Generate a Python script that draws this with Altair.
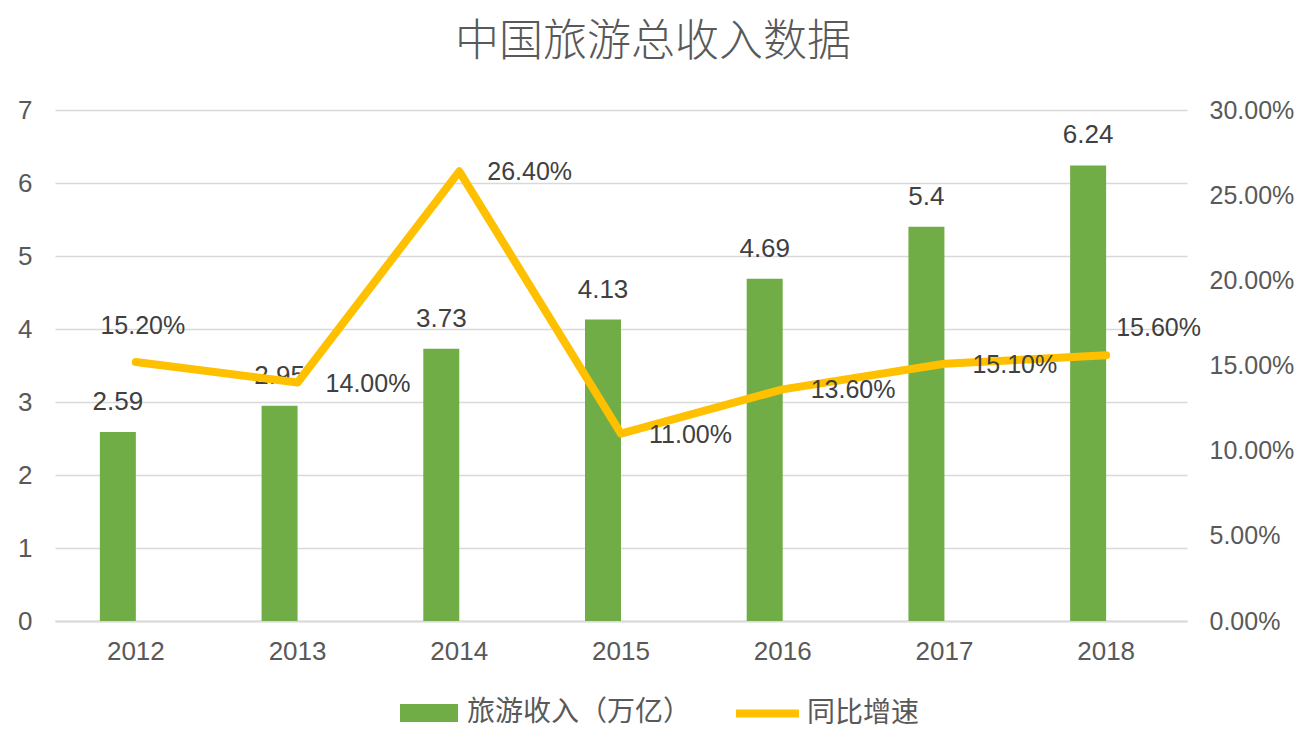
import altair as alt
import pandas as pd

years = ["2012", "2013", "2014", "2015", "2016", "2017", "2018"]
revenue = [2.59, 2.95, 3.73, 4.13, 4.69, 5.4, 6.24]
revenue_labels = ["2.59", "2.95", "3.73", "4.13", "4.69", "5.4", "6.24"]
growth = [0.152, 0.140, 0.264, 0.110, 0.136, 0.151, 0.156]

bar_name = "旅游收入（万亿）"
line_name = "同比增速"

df = pd.DataFrame({
    "year": years,
    "revenue": revenue,
    "rlabel": revenue_labels,
    "growth": growth,
    "s1": [bar_name] * len(years),
    "s2": [line_name] * len(years),
})

NUM_FONT = "Liberation Sans, Noto Sans CJK SC"
CJK_FONT = "Noto Sans CJK SC, Liberation Sans"
LABEL_COLOR = "#595959"
DATA_LABEL = "#404040"
GREEN = "#70AD47"
YELLOW = "#FFC000"

x = alt.X("year:O", title=None,
          scale=alt.Scale(paddingInner=0, paddingOuter=0),
          axis=alt.Axis(labelAngle=0, labelFontSize=26, labelFont=NUM_FONT,
                        labelColor=LABEL_COLOR, ticks=False, domain=True,
                        domainColor="#D9D9D9", domainWidth=2, labelPadding=17,
                        grid=False))

yl = alt.Y("revenue:Q", title=None,
           scale=alt.Scale(domain=[0, 7], nice=False),
           axis=alt.Axis(values=[0, 1, 2, 3, 4, 5, 6, 7], format="d",
                         labelFontSize=26, labelFont=NUM_FONT, labelColor=LABEL_COLOR,
                         ticks=False, domain=False, grid=True, gridColor="#D9D9D9",
                         gridWidth=1.5, labelPadding=23, orient="left"))

yr = alt.Y("growth:Q", title=None,
           scale=alt.Scale(domain=[0, 0.3], nice=False),
           axis=alt.Axis(values=[0, 0.05, 0.10, 0.15, 0.20, 0.25, 0.30], format=".2%",
                         labelFontSize=25, labelFont=NUM_FONT, labelColor=LABEL_COLOR,
                         ticks=False, domain=False, grid=False, labelPadding=22,
                         orient="right"))

base = alt.Chart(df)

bars = base.mark_bar(width=36, xOffset=-18).encode(
    x=x, y=yl,
    color=alt.Color("s1:N", scale=alt.Scale(domain=[bar_name], range=[GREEN]),
                    legend=alt.Legend(title=None, orient="none", legendX=345, legendY=574,
                                      symbolType="M-1,-0.31H1V0.31H-1Z", symbolSize=3364,
                                      symbolStrokeWidth=0, labelFontSize=28,
                                      labelFont=CJK_FONT, labelColor=LABEL_COLOR,
                                      labelOffset=9, padding=0, labelLimit=400)),
)

bar_text = base.mark_text(xOffset=-18, dy=-22, baseline="alphabetic", fontSize=26,
                          font=NUM_FONT, color=DATA_LABEL).encode(
    x=x, y=yl, text="rlabel:N")

left = alt.layer(bars, bar_text)

line = base.mark_line(strokeWidth=8, strokeCap="round", strokeJoin="round").encode(
    x=x, y=yr,
    stroke=alt.Stroke("s2:N", scale=alt.Scale(domain=[line_name], range=[YELLOW]),
                      legend=alt.Legend(title=None, orient="none", legendX=677, legendY=568,
                                        symbolType="stroke", symbolSize=3969,
                                        symbolStrokeWidth=8, labelFontSize=28,
                                        labelFont=CJK_FONT, labelColor=LABEL_COLOR,
                                        labelOffset=4, padding=0, labelLimit=400)),
)

txt = alt.Text("growth:Q", format=".2%")

lt_mid = base.transform_filter(
    "datum.year != '2012' && datum.year != '2018'"
).mark_text(align="left", baseline="middle", dx=28, dy=1, fontSize=25,
            font=NUM_FONT, color=DATA_LABEL).encode(x=x, y=yr, text=txt)

lt_first = base.transform_filter("datum.year == '2012'").mark_text(
    align="center", baseline="middle", dx=7, dy=-36, fontSize=25,
    font=NUM_FONT, color=DATA_LABEL).encode(x=x, y=yr, text=txt)

lt_last = base.transform_filter("datum.year == '2018'").mark_text(
    align="left", baseline="middle", dx=10, dy=-27, fontSize=25,
    font=NUM_FONT, color=DATA_LABEL).encode(x=x, y=yr, text=txt)

right = alt.layer(line, lt_mid, lt_first, lt_last)

chart = alt.layer(left, right).resolve_scale(
    y="independent", color="independent", stroke="independent"
).properties(
    width=1132, height=511,
    autosize="none",
    background="white",
    padding={"left": 55, "top": 110, "right": 120, "bottom": 130},
    title=alt.Title("中国旅游总收入数据", fontSize=44, font=CJK_FONT, color=LABEL_COLOR,
                    fontWeight=300, anchor="middle", dx=32, offset=32),
).configure_view(stroke=None)

chart.save("out.html", embed_options={"renderer": "svg", "actions": False})
